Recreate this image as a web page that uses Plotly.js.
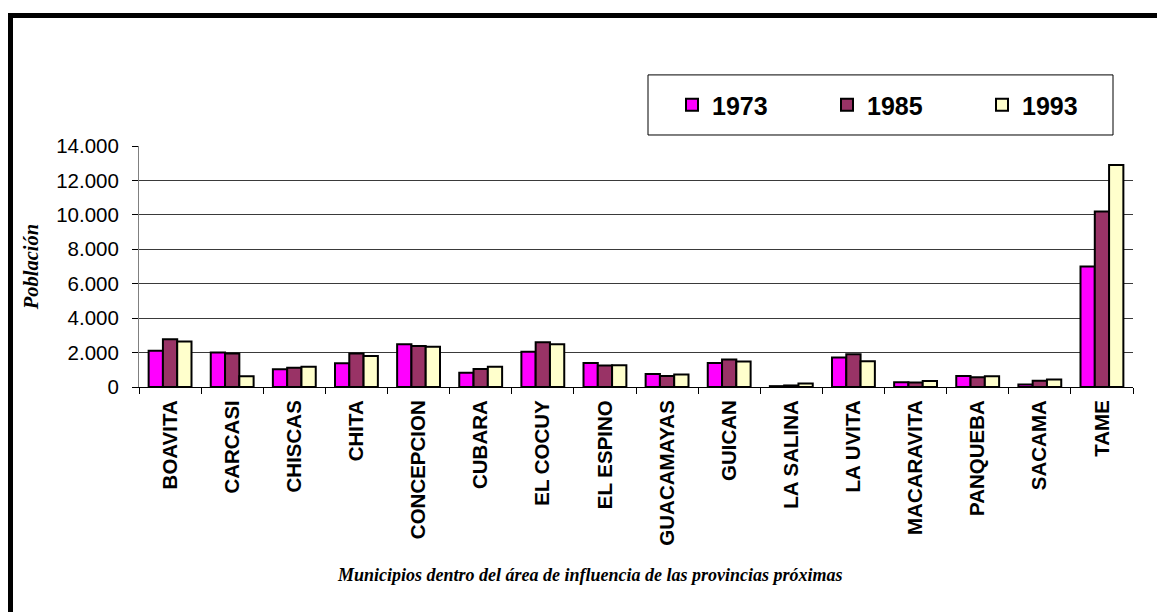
<!DOCTYPE html>
<html>
<head>
<meta charset="utf-8">
<script src="https://cdn.plot.ly/plotly-3.0.1.min.js"></script>
<style>
  html, body { margin: 0; padding: 0; background: #fff; overflow: hidden; }
  #chart { width: 1157px; height: 612px; }
  #frame { position: absolute; left: 8px; top: 13px; width: 1300px; height: 800px;
           border-top: 5px solid #000; border-left: 5px solid #000; pointer-events: none; }
</style>
</head>
<body>
<div id="chart"></div>
<div id="frame"></div>
<script>
const municipios = ["BOAVITA", "CARCASI", "CHISCAS", "CHITA", "CONCEPCION", "CUBARA", "EL COCUY",
  "EL ESPINO", "GUACAMAYAS", "GUICAN", "LA SALINA", "LA UVITA", "MACARAVITA", "PANQUEBA", "SACAMA", "TAME"];
const pob1973 = [2100, 2000, 1030, 1380, 2480, 830, 2050, 1400, 750, 1400, 50, 1710, 280, 640, 140, 7000];
const pob1985 = [2780, 1950, 1120, 1950, 2380, 1050, 2600, 1250, 640, 1600, 90, 1900, 260, 560, 360, 10200];
const pob1993 = [2650, 620, 1180, 1800, 2340, 1180, 2480, 1260, 720, 1480, 210, 1500, 350, 630, 440, 12900];
const years = ["1973", "1985", "1993"];
const yTickVals = [0, 2000, 4000, 6000, 8000, 10000, 12000, 14000];
const yTickText = ["0", "2.000", "4.000", "6.000", "8.000", "10.000", "12.000", "14.000"];

const colors = ["#FF00FF", "#993366", "#FFFFCC"];
const series = [pob1973, pob1985, pob1993];

const traces = series.map((vals, i) => ({
  type: "bar",
  name: years[i],
  x: municipios,
  y: vals,
  marker: { color: colors[i], line: { color: "#000", width: 2 } }
}));

const L = 139, R = 1133, T = 146, B = 386.7;
const py = v => (B - v) / (B - T);
const px = v => (v - L) / (R - L);

const layout = {
  width: 1157, height: 612,
  margin: { l: L, r: 1157 - R, t: T, b: 612 - B, pad: 0 },
  paper_bgcolor: "#fff", plot_bgcolor: "#fff",
  barmode: "group", bargap: 0.31, bargroupgap: 0,
  showlegend: true,
  font: { family: "Liberation Sans, Arial, sans-serif", color: "#000" },
  legend: {
    orientation: "h", xref: "container", yref: "container",
    x: 672 / 1157, xanchor: "left", y: 1 - 105 / 612, yanchor: "middle",
    bgcolor: "rgba(0,0,0,0)", borderwidth: 0,
    font: { family: "Liberation Sans, Arial, sans-serif", size: 25, color: "#000", weight: "bold" },
    entrywidth: 110, entrywidthmode: "pixels", traceorder: "normal"
  },
  xaxis: {
    type: "category",
    tickangle: -90,
    tickfont: { family: "Liberation Sans, Arial, sans-serif", size: 20.5, weight: "bold", color: "#000" },
    ticks: "outside", ticklen: 6, tickcolor: "#000", tickwidth: 1,
    tickson: "boundaries",
    ticklabelstandoff: 4,
    showline: true, linecolor: "#000", linewidth: 1,
    showgrid: false, zeroline: false,
    fixedrange: true
  },
  yaxis: {
    range: [0, 14000],
    tickvals: yTickVals, ticktext: yTickText,
    tickfont: { family: "Liberation Sans, Arial, sans-serif", size: 20.5, color: "#000" },
    ticks: "outside", ticklen: 6, tickcolor: "#000", tickwidth: 1,
    ticklabelstandoff: 9,
    showline: true, linecolor: "#808080", linewidth: 1,
    showgrid: true, gridcolor: "#3a3a3a", gridwidth: 1,
    zeroline: false,
    title: { text: "Población", standoff: 12,
      font: { family: "Liberation Serif, Times New Roman, serif", size: 20.5, weight: "bold", style: "italic", color: "#000" } },
    fixedrange: true
  },
  annotations: [{
    text: "Municipios dentro del área de influencia de las provincias próximas",
    xref: "paper", yref: "paper",
    x: px(590), y: py(574), xanchor: "center", yanchor: "middle",
    showarrow: false,
    font: { family: "Liberation Serif, Times New Roman, serif", size: 18, weight: "bold", style: "italic", color: "#000" }
  }],
  shapes: [{
    type: "rect", xref: "paper", yref: "paper",
    x0: px(648), x1: px(1113), y0: py(135), y1: py(75),
    line: { color: "#000", width: 1 }, fillcolor: "rgba(0,0,0,0)", layer: "below"
  }]
};

Plotly.newPlot("chart", traces, layout, { staticPlot: true, displayModeBar: false });
</script>
</body>
</html>
